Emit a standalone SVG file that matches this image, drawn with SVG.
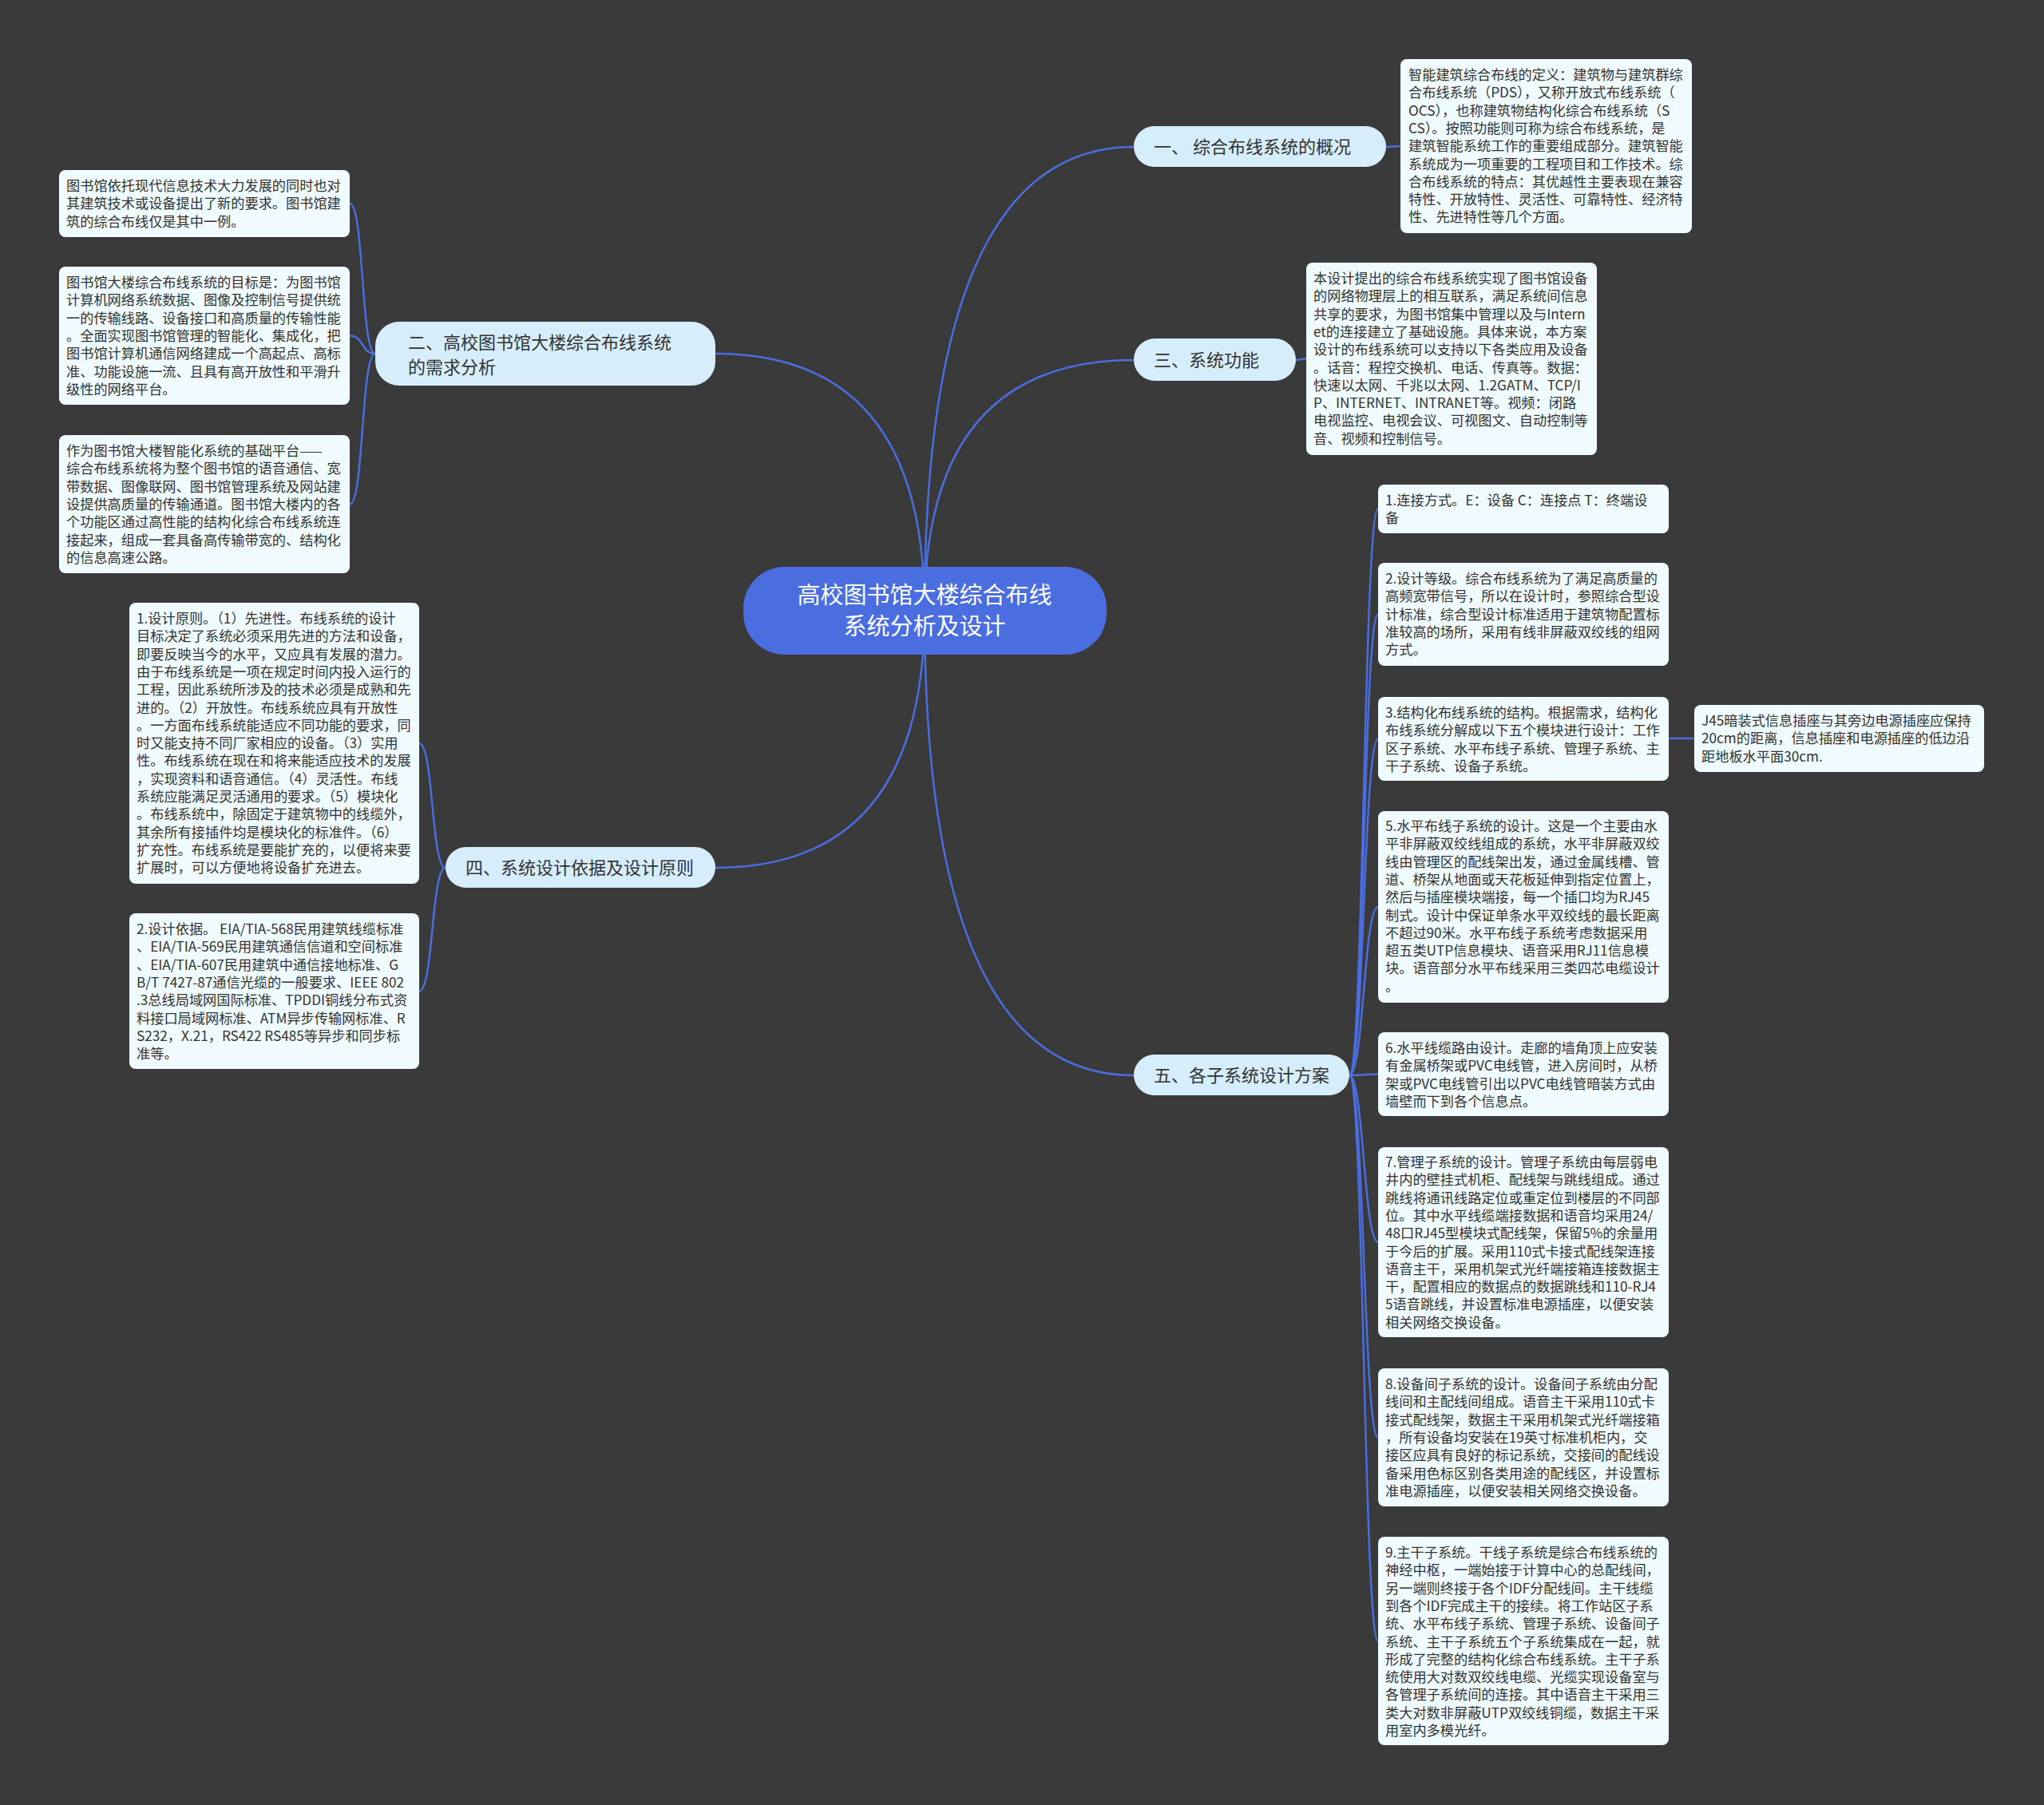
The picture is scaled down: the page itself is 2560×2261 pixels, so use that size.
<svg xmlns="http://www.w3.org/2000/svg" width="2560" height="2261" viewBox="0 0 2560 2261">
<style>
.bg{fill:#3a3a3a}
.con{fill:none;stroke:#4a6ee0;stroke-width:2.5}
.root{fill:#4a6ee0}
.roott{font-family:"Noto Sans CJK SC","Noto Sans",sans-serif;font-size:29px;fill:#ffffff}
.l1{fill:#d6eefb}
.l1t{font-family:"Noto Sans CJK SC","Noto Sans",sans-serif;font-size:22px;fill:#333333}
.leaf{fill:#effbfe}
.lt{font-family:"Noto Sans CJK SC","Noto Sans",sans-serif;font-size:17.2px;fill:#333333}
</style>
<rect class="bg" x="0" y="0" width="2560" height="2261"/>
<g id="connectors">
<path class="con" d="M1158,765 Q1158,184 1420,184"/>
<path class="con" d="M1158,765 Q1158,451 1420,451"/>
<path class="con" d="M1158,765 Q1158,1347 1420,1347"/>
<path class="con" d="M1158,765 Q1158,443 896,443"/>
<path class="con" d="M1158,765 Q1158,1087 896,1087"/>
<path class="con" d="M470,443 C452,443 456,255 438,255"/>
<path class="con" d="M470,443 C452,443 456,420.5 438,420.5"/>
<path class="con" d="M470,443 C452,443 456,631.5 438,631.5"/>
<path class="con" d="M558,1087 C540,1087 543,931 525,931"/>
<path class="con" d="M558,1087 C540,1087 543,1241.5 525,1241.5"/>
<path class="con" d="M1736,184 L1754,183"/>
<path class="con" d="M1623,451 L1636,449"/>
<path class="con" d="M1690,1347 C1708,1347 1708,637.5 1726,637.5"/>
<path class="con" d="M1690,1347 C1708,1347 1708,769.5 1726,769.5"/>
<path class="con" d="M1690,1347 C1708,1347 1708,925.5 1726,925.5"/>
<path class="con" d="M1690,1347 C1708,1347 1708,1136 1726,1136"/>
<path class="con" d="M1690,1347 C1708,1347 1708,1345.5 1726,1345.5"/>
<path class="con" d="M1690,1347 C1708,1347 1708,1556 1726,1556"/>
<path class="con" d="M1690,1347 C1708,1347 1708,1800.5 1726,1800.5"/>
<path class="con" d="M1690,1347 C1708,1347 1708,2055.5 1726,2055.5"/>
<path class="con" d="M2090,925 L2122,925"/>
</g>
<g id="root">
<rect class="root" x="931" y="710" width="455" height="110" rx="52"/>
<text class="roott" text-anchor="middle"><tspan x="1158" y="756">高校图书馆大楼综合布线</tspan><tspan x="1158" y="795">系统分析及设计</tspan></text>
</g>
<g id="n1">
<rect class="l1" x="1420" y="158" width="316" height="51" rx="25.5"/>
<text class="l1t" x="1445" y="192">一、 综合布线系统的概况</text>
</g>
<g id="n2">
<rect class="l1" x="470" y="403" width="426" height="80" rx="30"/>
<text class="l1t"><tspan x="511" y="437">二、高校图书馆大楼综合布线系统</tspan><tspan x="511" y="468">的需求分析</tspan></text>
</g>
<g id="n3">
<rect class="l1" x="1420" y="424" width="203" height="53" rx="26.5"/>
<text class="l1t" x="1445" y="459">三、系统功能</text>
</g>
<g id="n4">
<rect class="l1" x="558" y="1061" width="338" height="51" rx="25.5"/>
<text class="l1t" x="583" y="1095">四、系统设计依据及设计原则</text>
</g>
<g id="n5">
<rect class="l1" x="1420" y="1321" width="270" height="51" rx="25.5"/>
<text class="l1t" x="1445" y="1355">五、各子系统设计方案</text>
</g>
<g id="n1a">
<rect class="leaf" x="1754" y="74" width="365" height="218" rx="8"/>
<text class="lt"><tspan x="1764" y="100">智能建筑综合布线的定义：建筑物与建筑群综</tspan><tspan x="1764" dy="22.3">合布线系统（PDS），又称开放式布线系统（</tspan><tspan x="1764" dy="22.3">OCS），也称建筑物结构化综合布线系统（S</tspan><tspan x="1764" dy="22.3">CS）。按照功能则可称为综合布线系统，是</tspan><tspan x="1764" dy="22.3">建筑智能系统工作的重要组成部分。建筑智能</tspan><tspan x="1764" dy="22.3">系统成为一项重要的工程项目和工作技术。综</tspan><tspan x="1764" dy="22.3">合布线系统的特点：其优越性主要表现在兼容</tspan><tspan x="1764" dy="22.3">特性、开放特性、灵活性、可靠特性、经济特</tspan><tspan x="1764" dy="22.3">性、先进特性等几个方面。</tspan></text>
</g>
<g id="n3a">
<rect class="leaf" x="1636" y="329" width="364" height="241" rx="8"/>
<text class="lt"><tspan x="1645" y="355">本设计提出的综合布线系统实现了图书馆设备</tspan><tspan x="1645" dy="22.3">的网络物理层上的相互联系，满足系统间信息</tspan><tspan x="1645" dy="22.3">共享的要求，为图书馆集中管理以及与Intern</tspan><tspan x="1645" dy="22.3">et的连接建立了基础设施。具体来说，本方案</tspan><tspan x="1645" dy="22.3">设计的布线系统可以支持以下各类应用及设备</tspan><tspan x="1645" dy="22.3">。话音：程控交换机、电话、传真等。数据：</tspan><tspan x="1645" dy="22.3">快速以太网、千兆以太网、1.2GATM、TCP/I</tspan><tspan x="1645" dy="22.3">P、INTERNET、INTRANET等。视频：闭路</tspan><tspan x="1645" dy="22.3">电视监控、电视会议、可视图文、自动控制等</tspan><tspan x="1645" dy="22.3">音、视频和控制信号。</tspan></text>
</g>
<g id="n2a">
<rect class="leaf" x="74" y="213" width="364" height="84" rx="8"/>
<text class="lt"><tspan x="83" y="239">图书馆依托现代信息技术大力发展的同时也对</tspan><tspan x="83" dy="22.3">其建筑技术或设备提出了新的要求。图书馆建</tspan><tspan x="83" dy="22.3">筑的综合布线仅是其中一例。</tspan></text>
</g>
<g id="n2b">
<rect class="leaf" x="74" y="334" width="364" height="173" rx="8"/>
<text class="lt"><tspan x="83" y="360">图书馆大楼综合布线系统的目标是：为图书馆</tspan><tspan x="83" dy="22.3">计算机网络系统数据、图像及控制信号提供统</tspan><tspan x="83" dy="22.3">一的传输线路、设备接口和高质量的传输性能</tspan><tspan x="83" dy="22.3">。全面实现图书馆管理的智能化、集成化，把</tspan><tspan x="83" dy="22.3">图书馆计算机通信网络建成一个高起点、高标</tspan><tspan x="83" dy="22.3">准、功能设施一流、且具有高开放性和平滑升</tspan><tspan x="83" dy="22.3">级性的网络平台。</tspan></text>
</g>
<g id="n2c">
<rect class="leaf" x="74" y="545" width="364" height="173" rx="8"/>
<text class="lt"><tspan x="83" y="571">作为图书馆大楼智能化系统的基础平台——</tspan><tspan x="83" dy="22.3">综合布线系统将为整个图书馆的语音通信、宽</tspan><tspan x="83" dy="22.3">带数据、图像联网、图书馆管理系统及网站建</tspan><tspan x="83" dy="22.3">设提供高质量的传输通道。图书馆大楼内的各</tspan><tspan x="83" dy="22.3">个功能区通过高性能的结构化综合布线系统连</tspan><tspan x="83" dy="22.3">接起来，组成一套具备高传输带宽的、结构化</tspan><tspan x="83" dy="22.3">的信息高速公路。</tspan></text>
</g>
<g id="n4a">
<rect class="leaf" x="162" y="755" width="363" height="352" rx="8"/>
<text class="lt"><tspan x="171" y="781">1.设计原则。（1）先进性。布线系统的设计</tspan><tspan x="171" dy="22.3">目标决定了系统必须采用先进的方法和设备，</tspan><tspan x="171" dy="22.3">即要反映当今的水平，又应具有发展的潜力。</tspan><tspan x="171" dy="22.3">由于布线系统是一项在规定时间内投入运行的</tspan><tspan x="171" dy="22.3">工程，因此系统所涉及的技术必须是成熟和先</tspan><tspan x="171" dy="22.3">进的。（2）开放性。布线系统应具有开放性</tspan><tspan x="171" dy="22.3">。一方面布线系统能适应不同功能的要求，同</tspan><tspan x="171" dy="22.3">时又能支持不同厂家相应的设备。（3）实用</tspan><tspan x="171" dy="22.3">性。布线系统在现在和将来能适应技术的发展</tspan><tspan x="171" dy="22.3">，实现资料和语音通信。（4）灵活性。布线</tspan><tspan x="171" dy="22.3">系统应能满足灵活通用的要求。（5）模块化</tspan><tspan x="171" dy="22.3">。布线系统中，除固定于建筑物中的线缆外，</tspan><tspan x="171" dy="22.3">其余所有接插件均是模块化的标准件。（6）</tspan><tspan x="171" dy="22.3">扩充性。布线系统是要能扩充的，以便将来要</tspan><tspan x="171" dy="22.3">扩展时，可以方便地将设备扩充进去。</tspan></text>
</g>
<g id="n4b">
<rect class="leaf" x="162" y="1144" width="363" height="195" rx="8"/>
<text class="lt"><tspan x="171" y="1170">2.设计依据。 EIA/TIA-568民用建筑线缆标准</tspan><tspan x="171" dy="22.3">、EIA/TIA-569民用建筑通信信道和空间标准</tspan><tspan x="171" dy="22.3">、EIA/TIA-607民用建筑中通信接地标准、G</tspan><tspan x="171" dy="22.3">B/T 7427-87通信光缆的一般要求、IEEE 802</tspan><tspan x="171" dy="22.3">.3总线局域网国际标准、TPDDI铜线分布式资</tspan><tspan x="171" dy="22.3">料接口局域网标准、ATM异步传输网标准、R</tspan><tspan x="171" dy="22.3">S232，X.21，RS422 RS485等异步和同步标</tspan><tspan x="171" dy="22.3">准等。</tspan></text>
</g>
<g id="n5a">
<rect class="leaf" x="1726" y="607" width="364" height="61" rx="8"/>
<text class="lt"><tspan x="1735" y="633">1.连接方式。E：设备 C：连接点 T：终端设</tspan><tspan x="1735" dy="22.3">备</tspan></text>
</g>
<g id="n5b">
<rect class="leaf" x="1726" y="705" width="364" height="129" rx="8"/>
<text class="lt"><tspan x="1735" y="731">2.设计等级。综合布线系统为了满足高质量的</tspan><tspan x="1735" dy="22.3">高频宽带信号，所以在设计时，参照综合型设</tspan><tspan x="1735" dy="22.3">计标准，综合型设计标准适用于建筑物配置标</tspan><tspan x="1735" dy="22.3">准较高的场所，采用有线非屏蔽双绞线的组网</tspan><tspan x="1735" dy="22.3">方式。</tspan></text>
</g>
<g id="n5c">
<rect class="leaf" x="1726" y="873" width="364" height="105" rx="8"/>
<text class="lt"><tspan x="1735" y="899">3.结构化布线系统的结构。根据需求，结构化</tspan><tspan x="1735" dy="22.3">布线系统分解成以下五个模块进行设计：工作</tspan><tspan x="1735" dy="22.3">区子系统、水平布线子系统、管理子系统、主</tspan><tspan x="1735" dy="22.3">干子系统、设备子系统。</tspan></text>
</g>
<g id="n5c1">
<rect class="leaf" x="2122" y="883" width="363" height="84" rx="8"/>
<text class="lt"><tspan x="2131" y="909">J45暗装式信息插座与其旁边电源插座应保持</tspan><tspan x="2131" dy="22.3">20cm的距离，信息插座和电源插座的低边沿</tspan><tspan x="2131" dy="22.3">距地板水平面30cm.</tspan></text>
</g>
<g id="n5d">
<rect class="leaf" x="1726" y="1016" width="364" height="240" rx="8"/>
<text class="lt"><tspan x="1735" y="1041">5.水平布线子系统的设计。这是一个主要由水</tspan><tspan x="1735" dy="22.3">平非屏蔽双绞线组成的系统，水平非屏蔽双绞</tspan><tspan x="1735" dy="22.3">线由管理区的配线架出发，通过金属线槽、管</tspan><tspan x="1735" dy="22.3">道、桥架从地面或天花板延伸到指定位置上，</tspan><tspan x="1735" dy="22.3">然后与插座模块端接，每一个插口均为RJ45</tspan><tspan x="1735" dy="22.3">制式。设计中保证单条水平双绞线的最长距离</tspan><tspan x="1735" dy="22.3">不超过90米。水平布线子系统考虑数据采用</tspan><tspan x="1735" dy="22.3">超五类UTP信息模块、语音采用RJ11信息模</tspan><tspan x="1735" dy="22.3">块。语音部分水平布线采用三类四芯电缆设计</tspan><tspan x="1735" dy="22.3">。</tspan></text>
</g>
<g id="n5e">
<rect class="leaf" x="1726" y="1293" width="364" height="105" rx="8"/>
<text class="lt"><tspan x="1735" y="1319">6.水平线缆路由设计。走廊的墙角顶上应安装</tspan><tspan x="1735" dy="22.3">有金属桥架或PVC电线管，进入房间时，从桥</tspan><tspan x="1735" dy="22.3">架或PVC电线管引出以PVC电线管暗装方式由</tspan><tspan x="1735" dy="22.3">墙壁而下到各个信息点。</tspan></text>
</g>
<g id="n5f">
<rect class="leaf" x="1726" y="1437" width="364" height="238" rx="8"/>
<text class="lt"><tspan x="1735" y="1462">7.管理子系统的设计。管理子系统由每层弱电</tspan><tspan x="1735" dy="22.3">井内的壁挂式机柜、配线架与跳线组成。通过</tspan><tspan x="1735" dy="22.3">跳线将通讯线路定位或重定位到楼层的不同部</tspan><tspan x="1735" dy="22.3">位。其中水平线缆端接数据和语音均采用24/</tspan><tspan x="1735" dy="22.3">48口RJ45型模块式配线架，保留5%的余量用</tspan><tspan x="1735" dy="22.3">于今后的扩展。采用110式卡接式配线架连接</tspan><tspan x="1735" dy="22.3">语音主干，采用机架式光纤端接箱连接数据主</tspan><tspan x="1735" dy="22.3">干，配置相应的数据点的数据跳线和110-RJ4</tspan><tspan x="1735" dy="22.3">5语音跳线，并设置标准电源插座，以便安装</tspan><tspan x="1735" dy="22.3">相关网络交换设备。</tspan></text>
</g>
<g id="n5g">
<rect class="leaf" x="1726" y="1714" width="364" height="173" rx="8"/>
<text class="lt"><tspan x="1735" y="1740">8.设备间子系统的设计。设备间子系统由分配</tspan><tspan x="1735" dy="22.3">线间和主配线间组成。语音主干采用110式卡</tspan><tspan x="1735" dy="22.3">接式配线架，数据主干采用机架式光纤端接箱</tspan><tspan x="1735" dy="22.3">，所有设备均安装在19英寸标准机柜内，交</tspan><tspan x="1735" dy="22.3">接区应具有良好的标记系统，交接间的配线设</tspan><tspan x="1735" dy="22.3">备采用色标区别各类用途的配线区，并设置标</tspan><tspan x="1735" dy="22.3">准电源插座，以便安装相关网络交换设备。</tspan></text>
</g>
<g id="n5h">
<rect class="leaf" x="1726" y="1925" width="364" height="261" rx="8"/>
<text class="lt"><tspan x="1735" y="1951">9.主干子系统。干线子系统是综合布线系统的</tspan><tspan x="1735" dy="22.3">神经中枢，一端始接于计算中心的总配线间，</tspan><tspan x="1735" dy="22.3">另一端则终接于各个IDF分配线间。主干线缆</tspan><tspan x="1735" dy="22.3">到各个IDF完成主干的接续。将工作站区子系</tspan><tspan x="1735" dy="22.3">统、水平布线子系统、管理子系统、设备间子</tspan><tspan x="1735" dy="22.3">系统、主干子系统五个子系统集成在一起，就</tspan><tspan x="1735" dy="22.3">形成了完整的结构化综合布线系统。主干子系</tspan><tspan x="1735" dy="22.3">统使用大对数双绞线电缆、光缆实现设备室与</tspan><tspan x="1735" dy="22.3">各管理子系统间的连接。其中语音主干采用三</tspan><tspan x="1735" dy="22.3">类大对数非屏蔽UTP双绞线铜缆，数据主干采</tspan><tspan x="1735" dy="22.3">用室内多模光纤。</tspan></text>
</g>
</svg>
